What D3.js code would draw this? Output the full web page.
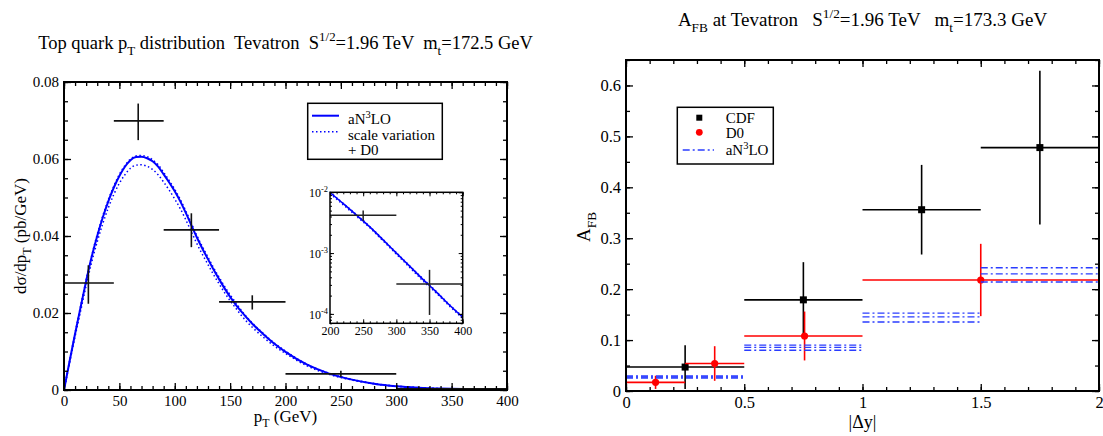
<!DOCTYPE html>
<html>
<head>
<meta charset="utf-8">
<script src="https://cdn.jsdelivr.net/npm/d3@7"></script>
<style>
  body { margin: 0; background: #fff; }
  svg { display: block; font-family: "Liberation Serif", "DejaVu Serif", "Times New Roman", serif; }
  text { white-space: pre; }
</style>
</head>
<body>
<svg id="chart" width="1103" height="436"></svg>
<script>
// ---- left panel: top quark pT distribution ----
const ptGrid = [0, 5, 10, 15, 20, 25, 30, 35, 40, 45, 50, 55, 60, 65, 70, 75, 80, 85, 90, 95, 100,
  105, 110, 115, 120, 125, 130, 135, 140, 145, 150, 155, 160, 170, 180, 190, 200, 220, 240, 260,
  280, 300, 320, 340, 360, 380, 400];
const an3loCentral = [0, 0.0074, 0.0146, 0.0215, 0.0283, 0.0346, 0.0400, 0.0448, 0.0490, 0.0526,
  0.0556, 0.0580, 0.0597, 0.0605, 0.0606, 0.0602, 0.0594, 0.0580, 0.0560, 0.0539, 0.0516,
  0.0490, 0.0460, 0.0428, 0.0396, 0.0367, 0.0340, 0.0313, 0.0288, 0.0264, 0.0242, 0.0222, 0.0204,
  0.0172, 0.0145, 0.0120, 0.0099, 0.0065, 0.0042, 0.0027, 0.00165, 0.00100, 0.00061, 0.00037,
  0.00023, 0.00014, 0.000088];
const scaleLow = [0, 0.0070, 0.0139, 0.0205, 0.0271, 0.0332, 0.0385, 0.0432, 0.0473, 0.0508,
  0.0537, 0.0559, 0.0576, 0.0584, 0.0585, 0.0581, 0.0573, 0.0559, 0.0540, 0.0519, 0.0496,
  0.0471, 0.0442, 0.0411, 0.0380, 0.0352, 0.0326, 0.0300, 0.0276, 0.0253, 0.0232, 0.0213, 0.0194,
  0.0163, 0.0137, 0.0114, 0.0095, 0.0062, 0.0040, 0.0026, 0.00158, 0.00096, 0.00058, 0.00035,
  0.00022, 0.000134, 0.000084];
const scaleHigh = [0, 0.0075, 0.0148, 0.0218, 0.0286, 0.0349, 0.0404, 0.0452, 0.0494, 0.0530,
  0.0560, 0.0583, 0.0600, 0.0608, 0.0609, 0.0606, 0.0598, 0.0585, 0.0565, 0.0544, 0.0521,
  0.0495, 0.0465, 0.0433, 0.0401, 0.0372, 0.0345, 0.0318, 0.0293, 0.0269, 0.0247, 0.0227, 0.0207,
  0.0174, 0.0147, 0.0122, 0.0101, 0.0066, 0.0043, 0.00275, 0.00168, 0.00102, 0.00062, 0.00038,
  0.000235, 0.000143, 0.00009];

const d0Pt = [22, 67, 115, 170, 250, 350];
const d0PtLo = [0, 45, 90, 140, 200, 300];
const d0PtHi = [45, 90, 140, 200, 300, 400];
const d0Xsec = [0.0278, 0.0699, 0.0416, 0.0229, 0.0042, 0.00031];
const d0XsecLo = [0.0224, 0.0649, 0.0371, 0.0209, 0.0034, 0.000096];
const d0XsecHi = [0.0324, 0.0744, 0.0459, 0.0246, 0.0050, 0.00053];

// ---- right panel: A_FB vs |dy| ----
const cdfDy = [0.25, 0.75, 1.25, 1.75];
const cdfDyLo = [0, 0.5, 1.0, 1.5];
const cdfDyHi = [0.5, 1.0, 1.5, 2.0];
const cdfAfb = [0.047, 0.179, 0.356, 0.478];
const cdfErr = [0.043, 0.074, 0.088, 0.151];

const d0Dy = [0.125, 0.375, 0.755, 1.5];
const d0DyLo = [0, 0.25, 0.5, 1.0];
const d0DyHi = [0.25, 0.5, 1.0, 2.0];
const d0Afb = [0.017, 0.054, 0.108, 0.218];
const d0Err = [0.013, 0.034, 0.048, 0.071];

const thBinLo = [0, 0.5, 1.0, 1.5];
const thBinHi = [0.5, 1.0, 1.5, 2.0];
const thAfbUp = [0.0295, 0.090, 0.153, 0.242];
const thAfbMid = [0.0275, 0.0855, 0.1455, 0.230];
const thAfbDown = [0.0255, 0.080, 0.1355, 0.214];

const svg = d3.select('#chart');
const BLUE = '#0000ff';
const DASHBLUE = '#2a3cff';

// text with sub/superscripts
function rich(sel, parts, size) {
  let shift = 0;
  parts.forEach(([s, m]) => {
    const target = m === 'sup' ? -0.42 * size : m === 'sub' ? 0.3 * size : 0;
    sel.append('tspan')
      .attr('dy', target - shift)
      .attr('font-size', m ? size * 0.7 : size)
      .text(s);
    shift = target;
  });
  return sel;
}

// inward ticks on all four sides
function frameAxes(g, x, y, opt) {
  const [x0, x1] = x.range();
  const [y0, y1] = y.range();
  const fs = opt.fontSize;
  const mk = (axis, tr, vals, size, labels) => {
    const a = g.append('g').attr('transform', tr)
      .call(axis.tickValues(vals).tickSize(-size).tickPadding(opt.pad || 5)
        .tickFormat(labels ? opt[labels] : ''));
    a.select('.domain').remove();
    a.selectAll('line').attr('stroke', '#000').attr('stroke-width', opt.tw || 1.3);
    a.selectAll('text').attr('font-size', fs).attr('fill', '#000')
      .attr('font-family', '"Liberation Serif", "DejaVu Serif", serif');
    return a;
  };
  mk(d3.axisBottom(x), `translate(0,${y0})`, opt.xMinor, opt.minor, null);
  mk(d3.axisBottom(x), `translate(0,${y0})`, opt.xMajor, opt.major, opt.xFmt ? 'xFmt' : null);
  mk(d3.axisTop(x), `translate(0,${y1})`, opt.xMinor, opt.minor, null);
  mk(d3.axisTop(x), `translate(0,${y1})`, opt.xMajor, opt.major, null);
  mk(d3.axisLeft(y), `translate(${x0},0)`, opt.yMinor, opt.minor, null);
  mk(d3.axisLeft(y), `translate(${x0},0)`, opt.yMajor, opt.major, opt.yFmt ? 'yFmt' : null);
  mk(d3.axisRight(y), `translate(${x1},0)`, opt.yMinor, opt.minor, null);
  mk(d3.axisRight(y), `translate(${x1},0)`, opt.yMajor, opt.major, null);
  g.append('rect').attr('x', x0).attr('y', y1).attr('width', x1 - x0).attr('height', y0 - y1)
    .attr('fill', 'none').attr('stroke', '#000').attr('stroke-width', opt.fw || 2);
}

function crosses(g, x, y, xs, lo, hi, ys, ylo, yhi, color, w) {
  xs.forEach((v, i) => {
    g.append('line').attr('x1', x(lo[i])).attr('x2', x(hi[i])).attr('y1', y(ys[i])).attr('y2', y(ys[i]))
      .attr('stroke', color).attr('stroke-width', w);
    g.append('line').attr('x1', x(v)).attr('x2', x(v)).attr('y1', y(ylo[i])).attr('y2', y(yhi[i]))
      .attr('stroke', color).attr('stroke-width', w);
  });
}

// ================= LEFT PANEL =================
const xL = d3.scaleLinear().domain([0, 400]).range([64, 507]);
const yL = d3.scaleLinear().domain([0, 0.08]).range([390, 82]);
const left = svg.append('g');

const lineL = d3.line().x((d, i) => xL(ptGrid[i])).y(d => yL(d)).curve(d3.curveMonotoneX);
left.append('path').attr('d', lineL(scaleLow)).attr('fill', 'none')
  .attr('stroke', BLUE).attr('stroke-width', 1.5).attr('stroke-dasharray', '1.5,2.5');
left.append('path').attr('d', lineL(scaleHigh)).attr('fill', 'none')
  .attr('stroke', BLUE).attr('stroke-width', 1.5).attr('stroke-dasharray', '1.5,2.5');
left.append('path').attr('d', lineL(an3loCentral)).attr('fill', 'none')
  .attr('stroke', BLUE).attr('stroke-width', 2);

crosses(left, xL, yL, d0Pt, d0PtLo, d0PtHi, d0Xsec, d0XsecLo, d0XsecHi, '#111', 1.6);

frameAxes(left, xL, yL, {
  fontSize: 15, major: 7, minor: 4, pad: 5,
  xMajor: d3.range(0, 401, 50), xMinor: d3.range(0, 401, 10),
  yMajor: d3.range(0, 0.0801, 0.02), yMinor: d3.range(0, 0.0801, 0.005),
  xFmt: d => d, yFmt: d => d === 0 ? '0' : d3.format('.2f')(d)
});

// legend (left)
const legL = left.append('g');
legL.append('rect').attr('x', 307.7).attr('y', 103.3).attr('width', 134.6).attr('height', 56)
  .attr('fill', '#fff').attr('stroke', '#000').attr('stroke-width', 1.5);
legL.append('line').attr('x1', 312).attr('x2', 339).attr('y1', 115.7).attr('y2', 115.7)
  .attr('stroke', BLUE).attr('stroke-width', 2);
legL.append('line').attr('x1', 312).attr('x2', 339).attr('y1', 131.7).attr('y2', 131.7)
  .attr('stroke', BLUE).attr('stroke-width', 1.5).attr('stroke-dasharray', '1.5,2.5');
rich(legL.append('text').attr('x', 348).attr('y', 124), [['aN', ''], ['3', 'sup'], ['LO', '']], 15);
legL.append('text').attr('x', 348).attr('y', 139.5).attr('font-size', 15).text('scale variation');
legL.append('text').attr('x', 348).attr('y', 154.5).attr('font-size', 15).text('+ D0');

// inset (log scale)
const xI = d3.scaleLinear().domain([200, 400]).range([330, 462.7]);
const yI = d3.scaleLog().domain([7e-5, 1e-2]).range([323.3, 192.3]);
const inset = left.append('g');
inset.append('rect').attr('x', 330).attr('y', 192.3).attr('width', 132.7).attr('height', 131)
  .attr('fill', '#fff');
const insetIdx = ptGrid.map((p, i) => i).filter(i => ptGrid[i] >= 200);
const lineI = arr => d3.line().x(i => xI(ptGrid[i])).y(i => yI(arr[i])).curve(d3.curveMonotoneX)(insetIdx);
inset.append('path').attr('d', lineI(scaleLow)).attr('fill', 'none')
  .attr('stroke', BLUE).attr('stroke-width', 1.3).attr('stroke-dasharray', '1.5,2.5');
inset.append('path').attr('d', lineI(scaleHigh)).attr('fill', 'none')
  .attr('stroke', BLUE).attr('stroke-width', 1.3).attr('stroke-dasharray', '1.5,2.5');
inset.append('path').attr('d', lineI(an3loCentral)).attr('fill', 'none')
  .attr('stroke', BLUE).attr('stroke-width', 1.6);
const insetPts = d0Pt.map((p, i) => i).filter(i => d0Pt[i] >= 200);
crosses(inset, xI, yI, insetPts.map(i => d0Pt[i]), insetPts.map(i => d0PtLo[i]), insetPts.map(i => d0PtHi[i]),
  insetPts.map(i => d0Xsec[i]), insetPts.map(i => d0XsecLo[i]), insetPts.map(i => d0XsecHi[i]), '#222', 1.5);

const logMinor = [];
[1e-5, 1e-4, 1e-3].forEach(dec => d3.range(1, 10).forEach(k => {
  const v = dec * k;
  if (v >= 7e-5 && v <= 1e-2) logMinor.push(v);
}));
frameAxes(inset, xI, yI, {
  fontSize: 12, major: 4, minor: 2, pad: 3, tw: 1, fw: 1.5,
  xMajor: d3.range(200, 401, 50), xMinor: d3.range(200, 401, 10),
  yMajor: [1e-4, 1e-3, 1e-2], yMinor: logMinor,
  xFmt: d => d
});
[[1e-2, '-2'], [1e-3, '-3'], [1e-4, '-4']].forEach(([v, e]) => {
  rich(inset.append('text').attr('x', 328).attr('y', yI(v) + 5).attr('text-anchor', 'end'),
    [['10', ''], [e, 'sup']], 12);
});

// titles and axis labels (left)
rich(svg.append('text').attr('x', 285.5).attr('y', 49).attr('text-anchor', 'middle'),
  [['Top quark p', ''], ['T', 'sub'], [' distribution  Tevatron  S', ''], ['1/2', 'sup'],
   ['=1.96 TeV  m', ''], ['t', 'sub'], ['=172.5 GeV', '']], 18.5);
rich(svg.append('text').attr('x', 285.5).attr('y', 422).attr('text-anchor', 'middle'),
  [['p', ''], ['T', 'sub'], [' (GeV)', '']], 17);
rich(svg.append('text').attr('transform', 'translate(26,236) rotate(-90)').attr('text-anchor', 'middle'),
  [['dσ/dp', ''], ['T', 'sub'], [' (pb/GeV)', '']], 17);

// ================= RIGHT PANEL =================
const xR = d3.scaleLinear().domain([0, 2]).range([626, 1099]);
const yR = d3.scaleLinear().domain([0, 0.65]).range([391, 60]);
const right = svg.append('g');

crosses(right, xR, yR, cdfDy, cdfDyLo, cdfDyHi, cdfAfb,
  cdfAfb.map((v, i) => v - cdfErr[i]), cdfAfb.map((v, i) => v + cdfErr[i]), '#000', 1.6);
right.selectAll('rect.cdf').data(cdfDy).enter().append('rect').attr('class', 'cdf')
  .attr('x', (d, i) => xR(d) - 3.5).attr('y', (d, i) => yR(cdfAfb[i]) - 3.5)
  .attr('width', 7).attr('height', 7).attr('fill', '#000');

crosses(right, xR, yR, d0Dy, d0DyLo, d0DyHi, d0Afb,
  d0Afb.map((v, i) => v - d0Err[i]), d0Afb.map((v, i) => v + d0Err[i]), '#ff0000', 1.6);
right.selectAll('circle.d0').data(d0Dy).enter().append('circle').attr('class', 'd0')
  .attr('cx', d => xR(d)).attr('cy', (d, i) => yR(d0Afb[i])).attr('r', 3.6).attr('fill', '#ff0000');

[thAfbUp, thAfbMid, thAfbDown].forEach(arr => {
  right.selectAll(null).data(arr).enter().append('line')
    .attr('x1', (d, i) => xR(thBinLo[i])).attr('x2', (d, i) => xR(thBinHi[i]))
    .attr('y1', d => yR(d)).attr('y2', d => yR(d))
    .attr('stroke', DASHBLUE).attr('stroke-width', 1.3).attr('stroke-dasharray', '7,3,2,3');
});

frameAxes(right, xR, yR, {
  fontSize: 16.5, major: 7, minor: 4, pad: 5,
  xMajor: d3.range(0, 2.01, 0.5), xMinor: d3.range(0, 2.01, 0.1),
  yMajor: d3.range(0, 0.651, 0.1), yMinor: d3.range(0, 0.651, 0.05),
  xFmt: d => d3.format('~g')(d), yFmt: d => d === 0 ? '0' : d3.format('.1f')(d)
});

// legend (right)
const legR = right.append('g');
legR.append('rect').attr('x', 677.3).attr('y', 107.3).attr('width', 96).attr('height', 56.7)
  .attr('fill', '#fff').attr('stroke', '#000').attr('stroke-width', 1.5);
legR.append('rect').attr('x', 696.3).attr('y', 114.7).attr('width', 6).attr('height', 6).attr('fill', '#000');
legR.append('circle').attr('cx', 699.3).attr('cy', 132.3).attr('r', 3.4).attr('fill', '#ff0000');
legR.append('line').attr('x1', 682.7).attr('x2', 714).attr('y1', 150).attr('y2', 150)
  .attr('stroke', DASHBLUE).attr('stroke-width', 1.4).attr('stroke-dasharray', '7,3,2,3');
legR.append('text').attr('x', 725.7).attr('y', 122.5).attr('font-size', 15).text('CDF');
legR.append('text').attr('x', 725.7).attr('y', 137.5).attr('font-size', 15).text('D0');
rich(legR.append('text').attr('x', 725.7).attr('y', 155), [['aN', ''], ['3', 'sup'], ['LO', '']], 15);

// titles and axis labels (right)
rich(svg.append('text').attr('x', 862.5).attr('y', 26).attr('text-anchor', 'middle'),
  [['A', ''], ['FB', 'sub'], [' at Tevatron   S', ''], ['1/2', 'sup'],
   ['=1.96 TeV   m', ''], ['t', 'sub'], ['=173.3 GeV', '']], 19);
svg.append('text').attr('x', 862.5).attr('y', 428).attr('text-anchor', 'middle')
  .attr('font-size', 18).text('|Δy|');
rich(svg.append('text').attr('transform', 'translate(590,227) rotate(-90)').attr('text-anchor', 'middle'),
  [['A', ''], ['FB', 'sub']], 19);
</script>
</body>
</html>
